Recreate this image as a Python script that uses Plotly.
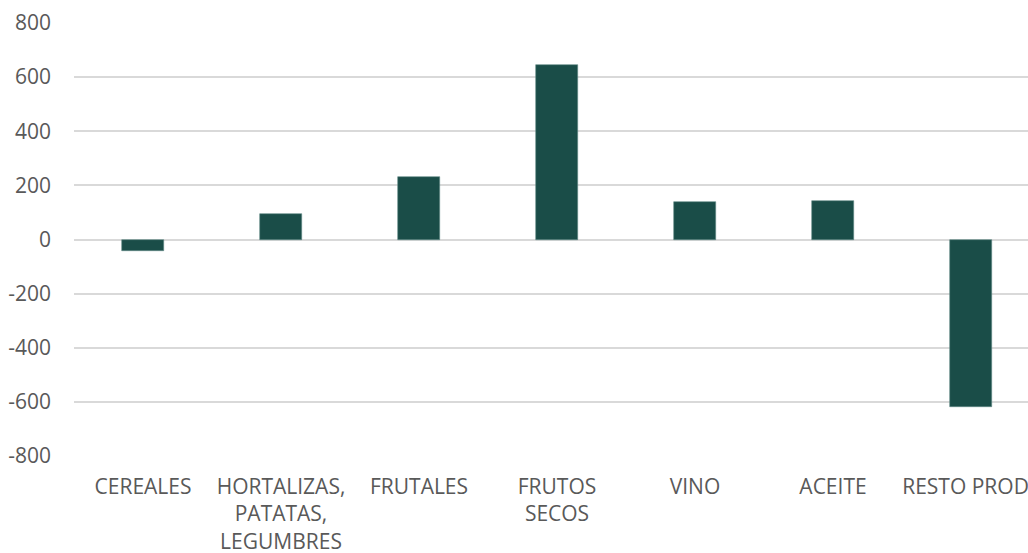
import plotly.graph_objects as go

categories = ["CEREALES", "HORTALIZAS,<br>PATATAS,<br>LEGUMBRES", "FRUTALES",
              "FRUTOS<br>SECOS", "VINO", "ACEITE", "RESTO PROD\u00a0\u00a0"]
values = [-44, 94, 232, 643, 138, 141, -620]
y_ticks = [-800, -600, -400, -200, 0, 200, 400, 600, 800]

bar_color = "#1a4d48"
text_color = "#595959"
grid_color = "#d9d9d9"
font_family = "Open Sans, Lato, sans-serif"

fig = go.Figure(go.Bar(
    x=list(range(len(categories))),
    y=values,
    width=0.31,
    marker=dict(color=bar_color, line=dict(color="#5f8a85", width=0.6)),
))

fig.update_layout(
    width=1028, height=553,
    margin=dict(l=74, r=0, t=23, b=97),
    paper_bgcolor="white", plot_bgcolor="white",
    showlegend=False,
    font=dict(family=font_family, size=21, color=text_color),
    bargap=0,
)
fig.update_xaxes(
    tickmode="array", tickvals=list(range(len(categories))), ticktext=categories,
    range=[-0.5, 6.413], showgrid=False, zeroline=False, showline=False,
    ticks="", ticklabelstandoff=16, automargin=False, ticklabeloverflow="allow",
    tickfont=dict(family=font_family, size=21, color=text_color),
)
fig.update_yaxes(
    range=[-800, 800], tickmode="array", tickvals=y_ticks,
    ticktext=[str(v) for v in y_ticks],
    showgrid=True, gridcolor=grid_color, gridwidth=1.5,
    zeroline=True, zerolinecolor=grid_color, zerolinewidth=1.5,
    showline=False, ticks="", ticklabelstandoff=22, automargin=False,
    ticklabeloverflow="allow",
    tickfont=dict(family=font_family, size=21, color=text_color),
)

fig.write_html(
    "out.html",
    config={"displayModeBar": False},
    post_script="document.body.style.margin='0';document.body.style.overflow='hidden';",
)
